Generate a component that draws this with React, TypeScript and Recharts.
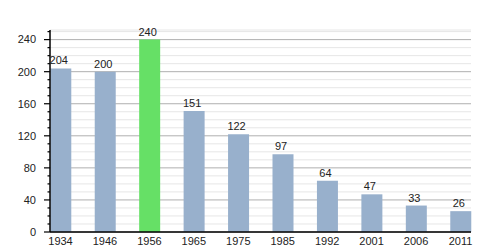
import React from 'react';
import { BarChart, Bar, XAxis, YAxis, CartesianGrid, Cell, LabelList } from 'recharts';

const years = ['1934', '1946', '1956', '1965', '1975', '1985', '1992', '2001', '2006', '2011'];
const population = [204, 200, 240, 151, 122, 97, 64, 47, 33, 26];
const highlightYear = '1956';
const minorTicks = [0, 10, 20, 30, 40, 50, 60, 70, 80, 90, 100, 110, 120, 130, 140, 150, 160, 170, 180, 190, 200, 210, 220, 230, 240, 250];
const majorTicks = [0, 40, 80, 120, 160, 200, 240];

const data = years.map((year, i) => ({ idx: i, year, pop: population[i] }));

const FONT = '"Liberation Sans", Arial, sans-serif';

const YTick = (props: any) => {
  const { x, y, payload } = props;
  const major = majorTicks.includes(payload.value);
  return (
    <g>
      <line x1={x - (major ? 6 : 2.5)} x2={x} y1={y} y2={y} stroke="#000" strokeWidth={1.2} />
      {major && (
        <text x={x - 14} y={y} dy="0.35em" textAnchor="end" fontSize={11} fill="#222" fontFamily={FONT}>
          {payload.value}
        </text>
      )}
    </g>
  );
};

// grid line colour depends on whether its value is a major tick
const GridLine = (props: any) => {
  const { x1, x2, y1, y2, index } = props;
  const value = minorTicks[index];
  const major = majorTicks.includes(value);
  return <line x1={x1} x2={x2} y1={y1} y2={y2} stroke={major ? '#b0b0b0' : '#e6e6e6'} strokeWidth={1} />;
};

export default function App() {
  return (
    <div style={{ position: 'absolute', left: 0, top: 0, width: 500, height: 250, background: '#fff' }}>
      <BarChart width={500} height={250} data={data} margin={{ top: 30, right: 29, left: 0, bottom: 0 }}>
        <CartesianGrid vertical={false} horizontal={GridLine} />
        <XAxis
          type="number"
          dataKey="idx"
          domain={[-0.2365, 9.2365]}
          ticks={data.map((d) => d.idx)}
          tickFormatter={(i: number) => years[i]}
          interval={0}
          height={18}
          tickLine={false}
          tickSize={0}
          tickMargin={5}
          axisLine={{ stroke: '#000', strokeWidth: 1.5 }}
          tick={{ fontSize: 11, fill: '#222', fontFamily: FONT }}
        />
        <YAxis
          domain={[0, 252]}
          ticks={minorTicks}
          interval={0}
          width={50}
          tickSize={0}
          tickMargin={0}
          tickLine={false}
          axisLine={{ stroke: '#000', strokeWidth: 1.5 }}
          tick={<YTick />}
        />
        <Bar dataKey="pop" barSize={21} isAnimationActive={false}>
          {data.map((d) => (
            <Cell key={d.year} fill={d.year === highlightYear ? '#66e066' : '#98b0cc'} />
          ))}
          <LabelList dataKey="pop" position="top" offset={4} fontSize={11} fill="#222" fontFamily={FONT} dx={-2} />
        </Bar>
      </BarChart>
    </div>
  );
}
